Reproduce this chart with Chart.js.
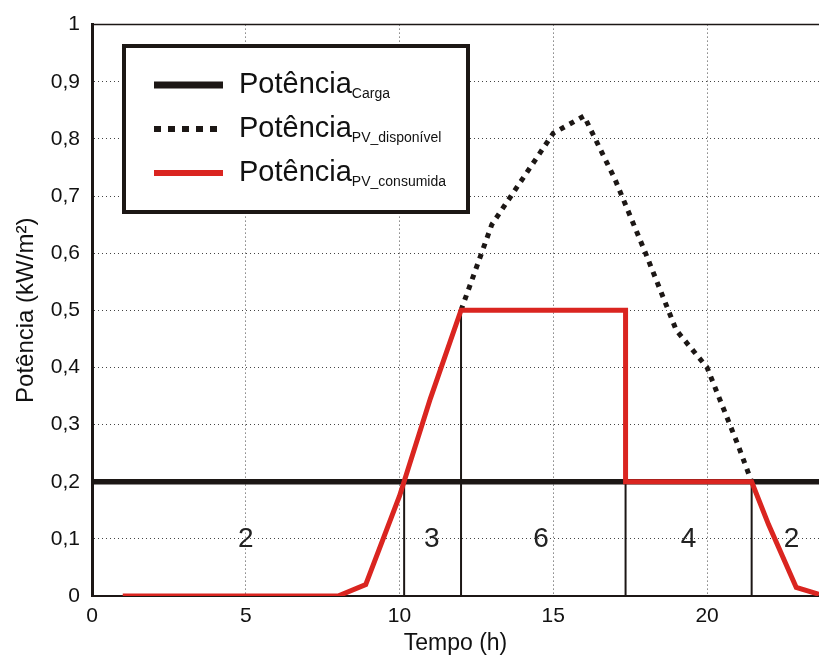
<!DOCTYPE html>
<html>
<head>
<meta charset="utf-8">
<script src="https://cdn.jsdelivr.net/npm/chart.js@4.4.1/dist/chart.umd.min.js"></script>
<style>
  html, body { margin: 0; padding: 0; background: #fff; }
  #wrap { width: 819px; height: 661px; }
</style>
</head>
<body>
<div id="wrap"><canvas id="grafico" width="819" height="661"></canvas></div>
<script>
// Eixo do tempo (h)
const X_MAX = 23.64;

// Potência da carga (constante)
const cargaX = [0, X_MAX];
const cargaY = [0.2, 0.2];

// Potência PV disponível (pontilhada)
const pvDispX = [12, 13, 14, 15, 16, 17, 18, 19, 20, 21, 21.45];
const pvDispY = [0.5, 0.65, 0.73, 0.81, 0.84, 0.73, 0.6, 0.465, 0.4, 0.265, 0.2];

// Potência PV consumida (vermelha)
const pvConsX = [1, 8, 8.9, 10, 11, 12, 17.35, 17.35, 21.45, 22, 22.9, X_MAX];
const pvConsY = [0, 0, 0.02, 0.175, 0.345, 0.5, 0.5, 0.2, 0.2, 0.125, 0.015, 0.003];

// linhas verticais que separam as regiões
const divisoriasX = [10.15, 12, 17.35, 21.45];
const divisoriasTopo = [0.2, 0.5, 0.2, 0.2];

// números das regiões (horas)
const regioesX = [5, 11.05, 14.6, 19.4, 22.75];
const regioesTexto = ['2', '3', '6', '4', '2'];
const regioesY = 0.1;

const PRETO = '#1c1715';
const VERMELHO = '#da2520';
const FONTE = "'Liberation Sans', Arial, sans-serif";

function pontos(xs, ys) {
    return xs.map((x, i) => ({ x: x, y: ys[i] }));
}

const divisorias = [];
divisoriasX.forEach((x, i) => {
    divisorias.push({ x: x, y: 0 }, { x: x, y: divisoriasTopo[i] }, { x: x, y: null });
});

const legendaItens = [
    { sub: 'Carga', cor: PRETO, largura: 7, dash: [] },
    { sub: 'PV_disponível', cor: PRETO, largura: 6, dash: [7, 7] },
    { sub: 'PV_consumida', cor: VERMELHO, largura: 6, dash: [] }
];

// legenda com subscrito + quadro superior + números das regiões
const extras = {
    id: 'extras',
    afterDatasetsDraw(chart) {
        const ctx = chart.ctx;
        const area = chart.chartArea;
        const sx = chart.scales.x, sy = chart.scales.y;
        ctx.save();

        // linha superior do quadro
        ctx.strokeStyle = PRETO;
        ctx.lineWidth = 1.5;
        ctx.beginPath();
        ctx.moveTo(area.left, area.top);
        ctx.lineTo(area.right, area.top);
        ctx.stroke();

        // números das regiões
        ctx.fillStyle = '#222';
        ctx.font = '28px ' + FONTE;
        ctx.textAlign = 'center';
        ctx.textBaseline = 'middle';
        regioesX.forEach((x, i) => {
            ctx.fillText(regioesTexto[i], sx.getPixelForValue(x), sy.getPixelForValue(regioesY));
        });

        // caixa da legenda
        const bx = 124, by = 46, bw = 344, bh = 166;
        ctx.fillStyle = '#fff';
        ctx.fillRect(bx, by, bw, bh);
        ctx.strokeStyle = PRETO;
        ctx.lineWidth = 4;
        ctx.strokeRect(bx, by, bw, bh);

        const linhas = [85, 129, 173];
        legendaItens.forEach((it, i) => {
            const yy = linhas[i];
            ctx.beginPath();
            ctx.setLineDash(it.dash);
            ctx.lineWidth = it.largura;
            ctx.strokeStyle = it.cor;
            ctx.moveTo(154, yy);
            ctx.lineTo(223, yy);
            ctx.stroke();
            ctx.setLineDash([]);

            ctx.fillStyle = '#111';
            ctx.textAlign = 'left';
            ctx.textBaseline = 'alphabetic';
            ctx.font = '29px ' + FONTE;
            ctx.fillText('Potência', 239, yy + 8);
            const w = ctx.measureText('Potência').width;
            ctx.font = '14px ' + FONTE;
            ctx.fillText(it.sub, 239 + w, yy + 13);
        });
        ctx.restore();
    }
};

new Chart(document.getElementById('grafico'), {
    type: 'line',
    data: {
        datasets: [
            {
                label: 'Potência PV consumida',
                data: pontos(pvConsX, pvConsY),
                borderColor: VERMELHO,
                borderWidth: 5,
                borderJoinStyle: 'miter'
            },
            {
                label: 'Potência Carga',
                data: pontos(cargaX, cargaY),
                borderColor: PRETO,
                borderWidth: 5.5
            },
            {
                label: 'Potência PV disponível',
                data: pontos(pvDispX, pvDispY),
                borderColor: PRETO,
                borderWidth: 5,
                borderDash: [5, 6]
            },
            {
                label: 'divisórias',
                data: divisorias,
                borderColor: PRETO,
                borderWidth: 2
            }
        ]
    },
    options: {
        responsive: false,
        animation: false,
        devicePixelRatio: 1,
        layout: { padding: { top: 15, left: 0, right: 0, bottom: 0 } },
        elements: { point: { radius: 0 }, line: { tension: 0 } },
        plugins: { legend: { display: false }, tooltip: { enabled: false } },
        scales: {
            x: {
                type: 'linear',
                min: 0,
                max: X_MAX,
                afterFit: (s) => { s.height = 65; },
                ticks: {
                    stepSize: 5,
                    includeBounds: false,
                    padding: 8,
                    color: '#111',
                    font: { family: FONTE, size: 21 }
                },
                grid: { color: '#444', lineWidth: 1, drawTicks: false },
                border: { display: true, color: PRETO, width: 2, dash: [1, 3] },
                title: {
                    display: true,
                    text: 'Tempo (h)',
                    color: '#111',
                    font: { family: FONTE, size: 23 },
                    padding: { top: 0, bottom: 4 }
                }
            },
            y: {
                min: 0,
                max: 1,
                afterFit: (s) => { s.width = 92; },
                ticks: {
                    stepSize: 0.1,
                    padding: 12,
                    color: '#111',
                    font: { family: FONTE, size: 21 },
                    callback: (v) => {
                        const r = Math.round(v * 10) / 10;
                        if (r === 0) return '0';
                        if (r === 1) return '1';
                        return r.toFixed(1).replace('.', ',');
                    }
                },
                grid: { color: '#444', lineWidth: 1, drawTicks: false },
                border: { display: true, color: PRETO, width: 3, dash: [1, 3] },
                title: {
                    display: true,
                    text: 'Potência (kW/m²)',
                    color: '#111',
                    font: { family: FONTE, size: 24 },
                    padding: { top: 12, bottom: 0 }
                }
            }
        }
    },
    plugins: [extras]
});
</script>
</body>
</html>
